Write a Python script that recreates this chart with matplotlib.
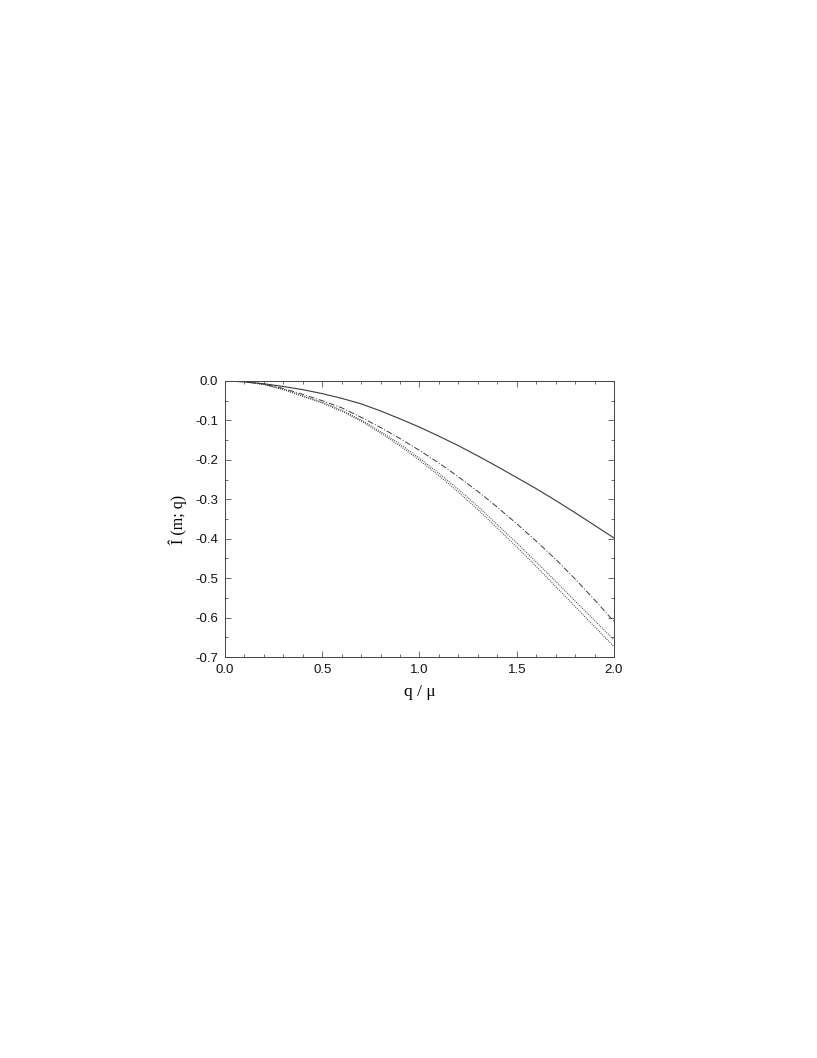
import numpy as np
import matplotlib
matplotlib.use('Agg')
import matplotlib.pyplot as plt
from matplotlib.ticker import MultipleLocator

# values, q/mu in steps of 0.1
q = [0.0, 0.1, 0.2, 0.3, 0.4, 0.5, 0.6, 0.7, 0.8, 0.9, 1.0,
     1.1, 1.2, 1.3, 1.4, 1.5, 1.6, 1.7, 1.8, 1.9, 2.0]
solid = [0.0, -0.002, -0.007, -0.014, -0.022, -0.032, -0.044, -0.058, -0.076, -0.096, -0.117,
         -0.140, -0.164, -0.190, -0.217, -0.245, -0.273, -0.303, -0.334, -0.366, -0.398]
dashdot = [0.0, -0.002, -0.008, -0.019, -0.034, -0.050, -0.068, -0.092, -0.118, -0.146, -0.176,
           -0.208, -0.243, -0.280, -0.320, -0.362, -0.406, -0.452, -0.502, -0.555, -0.610]
dotted1 = [0.0, -0.002, -0.009, -0.021, -0.038, -0.054, -0.074, -0.099, -0.128, -0.160, -0.196,
           -0.234, -0.275, -0.318, -0.364, -0.411, -0.459, -0.508, -0.558, -0.607, -0.657]
dotted2 = [0.0, -0.002, -0.009, -0.022, -0.039, -0.056, -0.077, -0.102, -0.132, -0.165, -0.201,
           -0.240, -0.282, -0.326, -0.373, -0.421, -0.470, -0.521, -0.572, -0.623, -0.674]

plt.rcParams['font.family'] = ['Liberation Sans', 'DejaVu Sans']

fig = plt.figure(figsize=(8.17, 10.58), dpi=100)
ax = fig.add_axes([0.2754, 0.379, 0.4761, 0.2609])

lc = '#3a3a3a'
ax.plot(q, solid, color=lc, lw=0.8, ls='-')
ax.plot(q, dashdot, color=lc, lw=0.7, ls=(0, (6, 2, 1, 2)))
ax.plot(q, dotted1, color=lc, lw=0.7, ls=(0, (1, 1.2)))
ax.plot(q, dotted2, color=lc, lw=0.7, ls=(0, (1, 1.2)))

ax.set_xlim(0.0, 2.0)
ax.set_ylim(-0.7, 0.0)
ax.xaxis.set_major_locator(MultipleLocator(0.5))
ax.xaxis.set_minor_locator(MultipleLocator(0.1))
ax.yaxis.set_major_locator(MultipleLocator(0.1))
ax.yaxis.set_minor_locator(MultipleLocator(0.05))
ax.xaxis.set_major_formatter(matplotlib.ticker.FormatStrFormatter('%.1f'))
ax.yaxis.set_major_formatter(matplotlib.ticker.FormatStrFormatter('%.1f'))
ax.tick_params(which='both', direction='in', top=True, right=True,
               width=0.6, color='#555555', labelsize=9.5, labelcolor='#111111')
ax.tick_params(which='major', length=4.5, pad=5)
ax.tick_params(which='minor', length=2.5)
for s in ax.spines.values():
    s.set_linewidth(0.7)
    s.set_color('#444444')

ax.set_xlabel('q / \u03bc', family='Liberation Serif', fontsize=12.5, labelpad=6)
ax.set_ylabel('\u00ce (m; q)', family='Liberation Serif', fontsize=11.5, labelpad=6)

fig.savefig('out.png', dpi=100)
